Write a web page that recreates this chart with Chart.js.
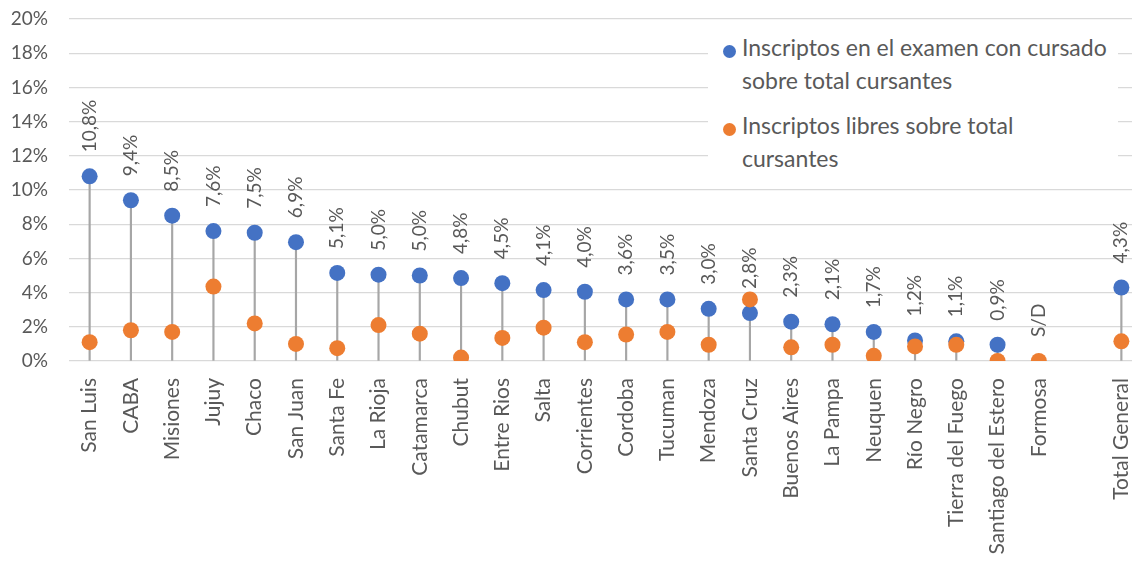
<!DOCTYPE html>
<html>
<head>
<meta charset="utf-8">
<script src="https://cdn.jsdelivr.net/npm/chart.js@4.4.0/dist/chart.umd.min.js"></script>
<style>
  body { margin: 0; background: #fff; overflow: hidden; }
  #wrap { position: relative; width: 1150px; height: 574px; }
  #legend {
    position: absolute; left: 708px; top: 28px; width: 410px; height: 147px;
    background: #fff; font-family: Lato, sans-serif; font-size: 23px; color: #595959;
  }
  .item { position: absolute; left: 34px; line-height: 33px; white-space: nowrap; }
  .item .dot { position: absolute; left: -19px; top: 14px; width: 13px; height: 13px; border-radius: 50%; }
</style>
</head>
<body>
<div id="wrap">
  <canvas id="chart" width="1150" height="574"></canvas>
  <div id="legend">
    <div class="item" style="top:3px"><span class="dot" style="background:#4472C4"></span>Inscriptos en el examen con cursado<br>sobre total cursantes</div>
    <div class="item" style="top:81px"><span class="dot" style="background:#ED7D31"></span>Inscriptos libres sobre total<br>cursantes</div>
  </div>
</div>
<script>
const provincias = ["San Luis", "CABA", "Misiones", "Jujuy", "Chaco", "San Juan", "Santa Fe", "La Rioja",
  "Catamarca", "Chubut", "Entre Rios", "Salta", "Corrientes", "Cordoba", "Tucuman", "Mendoza",
  "Santa Cruz", "Buenos Aires", "La Pampa", "Neuquen", "Río Negro", "Tierra del Fuego",
  "Santiago del Estero", "Formosa", "", "Total General"];
// inscriptos en el examen con cursado / total cursantes (%)
const conCursado = [10.8, 9.4, 8.5, 7.6, 7.5, 6.95, 5.15, 5.05, 5.0, 4.85, 4.55, 4.15, 4.05, 3.6, 3.6, 3.05,
  2.8, 2.3, 2.15, 1.7, 1.2, 1.15, 0.95, null, null, 4.3];
// inscriptos libres / total cursantes (%)
const libres = [1.1, 1.8, 1.7, 4.35, 2.2, 1.0, 0.75, 2.1, 1.6, 0.2, 1.35, 1.95, 1.1, 1.55, 1.7, 0.95,
  3.6, 0.8, 0.95, 0.3, 0.85, 0.95, 0.0, 0.0, null, 1.15];
const etiquetas = ["10,8%", "9,4%", "8,5%", "7,6%", "7,5%", "6,9%", "5,1%", "5,0%", "5,0%", "4,8%",
  "4,5%", "4,1%", "4,0%", "3,6%", "3,5%", "3,0%", "2,8%", "2,3%", "2,1%", "1,7%", "1,2%", "1,1%",
  "0,9%", "S/D", "", "4,3%"];
const yTicks = [0, 2, 4, 6, 8, 10, 12, 14, 16, 18, 20];

const gris = "#595959";

// lineas verticales desde 0 hasta el punto mas alto de cada provincia
const lineas = conCursado.map((v, i) => {
  if (v === null) return null;
  return [0, Math.max(v, libres[i] || 0)];
});

const labelPlugin = {
  id: "etiquetas",
  afterDatasetsDraw(chart) {
    const ctx = chart.ctx;
    const blue = chart.getDatasetMeta(1);
    const orange = chart.getDatasetMeta(2);
    ctx.save();
    ctx.font = "19px Lato, sans-serif";
    ctx.fillStyle = gris;
    ctx.textAlign = "left";
    ctx.textBaseline = "middle";
    etiquetas.forEach((txt, i) => {
      if (!txt) return;
      const pt = conCursado[i] !== null ? blue.data[i] : orange.data[i];
      ctx.save();
      ctx.translate(pt.x, pt.y - 24);
      ctx.rotate(-Math.PI / 2);
      ctx.fillText(txt, 0, 0);
      ctx.restore();
    });
    ctx.restore();
  }
};

new Chart(document.getElementById("chart"), {
  type: "bar",
  data: {
    labels: provincias,
    datasets: [
      {
        data: lineas,
        backgroundColor: "#A6A6A6",
        barThickness: 1.5,
        order: 3,
      },
      {
        type: "line",
        label: "Inscriptos en el examen con cursado sobre total cursantes",
        data: conCursado,
        showLine: false,
        pointRadius: 8,
        pointHoverRadius: 8,
        pointBackgroundColor: "#4472C4",
        pointBorderColor: "#4472C4",
        pointBorderWidth: 0,
        order: 2,
      },
      {
        type: "line",
        label: "Inscriptos libres sobre total cursantes",
        data: libres,
        showLine: false,
        pointRadius: 8,
        pointHoverRadius: 8,
        pointBackgroundColor: "#ED7D31",
        pointBorderColor: "#ED7D31",
        pointBorderWidth: 0,
        order: 1,
      },
    ],
  },
  options: {
    responsive: false,
    animation: false,
    layout: { padding: { top: 19, right: 1, left: 0, bottom: 0 } },
    plugins: { legend: { display: false }, tooltip: { enabled: false } },
    scales: {
      x: {
        offset: true,
        grid: { display: false, drawTicks: true, tickLength: 17 },
        border: { display: false },
        ticks: {
          minRotation: 90, maxRotation: 90, autoSkip: false, padding: 0,
          color: gris, font: { family: "Lato, sans-serif", size: 21 },
        },
        afterFit: (scale) => { scale.height = 213; },
      },
      y: {
        min: 0, max: 20,
        afterBuildTicks: (scale) => { scale.ticks = yTicks.map((v) => ({ value: v })); },
        grid: { color: "#D9D9D9", lineWidth: 1.3, drawTicks: true, tickLength: 21, tickColor: "rgba(0,0,0,0)" },
        border: { display: false },
        ticks: {
          padding: 0, color: gris, font: { family: "Lato, sans-serif", size: 19 },
          callback: (v) => v + "%",
        },
        afterFit: (scale) => { scale.width = 69; },
      },
    },
  },
  plugins: [labelPlugin],
});
</script>
</body>
</html>
